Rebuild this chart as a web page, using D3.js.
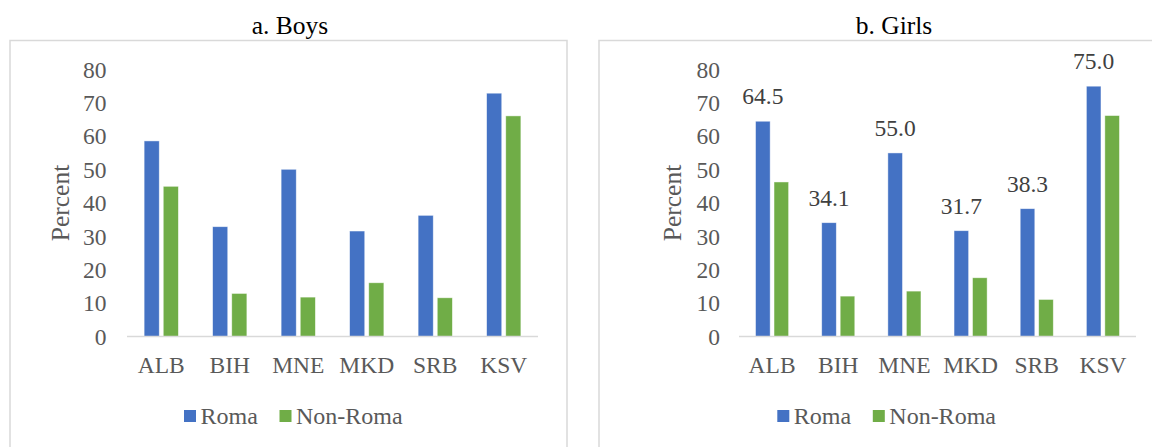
<!DOCTYPE html>
<html>
<head>
<meta charset="utf-8">
<script src="https://cdn.jsdelivr.net/npm/d3@7"></script>
<style>
  html, body { margin: 0; padding: 0; background: #fff; }
  svg { display: block; }
  svg text { font-family: "Liberation Serif", "Times New Roman", Times, serif; }
</style>
</head>
<body>
<svg id="chart" width="1152" height="447"></svg>
<script>
// ---- data ----
const categories = ["ALB", "BIH", "MNE", "MKD", "SRB", "KSV"];
const seriesNames = ["Roma", "Non-Roma"];
const boysRoma    = [58.6, 32.9, 50.1, 31.6, 36.3, 72.9];
const boysNonRoma = [45.0, 12.9, 11.8, 16.1, 11.6, 66.1];
const girlsRoma    = [64.5, 34.1, 55.0, 31.7, 38.3, 75.0];
const girlsNonRoma = [46.3, 12.1, 13.6, 17.6, 11.1, 66.2];
const yTicks = [0, 10, 20, 30, 40, 50, 60, 70, 80];
const panelTitles = ["a. Boys", "b. Girls"];
const axisTitle = "Percent";

const colors = { "Roma": "#4472C4", "Non-Roma": "#70AD47" };
const FONT = "Liberation Serif, Times New Roman, serif";

const panels = [
  { title: panelTitles[0], roma: boysRoma, non: boysNonRoma, labels: false,
    box: [10, 40.5, 567, 470], plot: [127, 538], tickRight: 106.5, axisX: 60.5,
    titleX: 290, legendX: 184 },
  { title: panelTitles[1], roma: girlsRoma, non: girlsNonRoma, labels: true,
    box: [599, 40.5, 1170, 470], plot: [739, 1136], tickRight: 720, axisX: 672.5,
    titleX: 894, legendX: 777.3 }
];

const svg = d3.select("#chart");
const y = d3.scaleLinear().domain([0, 80]).range([336.5, 69.5]);

panels.forEach(p => {
  const g = svg.append("g").attr("font-family", FONT);
  g.append("rect")
    .attr("x", p.box[0]).attr("y", p.box[1])
    .attr("width", p.box[2] - p.box[0]).attr("height", p.box[3] - p.box[1])
    .attr("fill", "#fff").attr("stroke", "#d9d9d9").attr("stroke-width", 1.5);

  g.append("text").attr("x", p.titleX).attr("y", 34)
    .attr("text-anchor", "middle").attr("font-size", 25.5).attr("fill", "#000")
    .attr("font-family", FONT)
    .text(p.title);

  const x0 = d3.scaleBand().domain(categories).range(p.plot).paddingInner(0).paddingOuter(0);
  const groupW = x0.bandwidth() * 0.5;
  const x1 = d3.scaleBand().domain(seriesNames).range([-groupW / 2, groupW / 2]).paddingInner(0.21);

  g.append("g").selectAll("text").data(yTicks).join("text")
    .attr("x", p.tickRight).attr("y", d => y(d))
    .attr("dy", "0.35em").attr("text-anchor", "end")
    .attr("font-size", 23.5).attr("fill", "#595959").attr("font-family", FONT)
    .text(d => d);

  g.append("text")
    .attr("transform", `translate(${p.axisX},${(y(0) + y(80)) / 2}) rotate(-90)`)
    .attr("dy", "0.35em").attr("text-anchor", "middle")
    .attr("font-size", 25.5).attr("fill", "#595959").attr("font-family", FONT)
    .text(axisTitle);

  const rows = categories.map((c, i) => ({ cat: c, vals: [
    { s: "Roma", v: p.roma[i] }, { s: "Non-Roma", v: p.non[i] } ] }));
  const cg = g.append("g").selectAll("g").data(rows).join("g")
    .attr("transform", d => `translate(${x0(d.cat) + x0.bandwidth() / 2},0)`);
  cg.selectAll("rect").data(d => d.vals).join("rect")
    .attr("x", d => x1(d.s)).attr("width", x1.bandwidth())
    .attr("y", d => y(d.v)).attr("height", d => y(0) - y(d.v))
    .attr("fill", d => colors[d.s])
    .attr("stroke", "#ffffff").attr("stroke-width", 0.75).attr("stroke-opacity", 0.6);

  if (p.labels) {
    cg.append("text")
      .attr("x", d => x1("Roma") + x1.bandwidth() / 2)
      .attr("y", d => y(d.vals[0].v) - 17)
      .attr("text-anchor", "middle").attr("font-size", 23.5).attr("fill", "#404040")
      .attr("font-family", FONT)
      .text(d => d3.format(".1f")(d.vals[0].v));
  }

  g.append("line").attr("x1", p.plot[0]).attr("x2", p.plot[1])
    .attr("y1", y(0)).attr("y2", y(0))
    .attr("stroke", "#d9d9d9").attr("stroke-width", 1.5);

  g.append("g").selectAll("text").data(categories).join("text")
    .attr("x", d => x0(d) + x0.bandwidth() / 2).attr("y", 373)
    .attr("text-anchor", "middle").attr("font-size", 23.5).attr("fill", "#595959")
    .attr("font-family", FONT)
    .text(d => d);

  const lg = g.append("g").attr("transform", `translate(${p.legendX},410)`);
  const items = lg.selectAll("g").data(seriesNames).join("g")
    .attr("transform", (d, i) => `translate(${i * 95.5},0)`);
  items.append("rect").attr("width", 12).attr("height", 12).attr("fill", d => colors[d]);
  items.append("text").attr("x", 16.5).attr("y", 14)
    .attr("font-size", 24).attr("fill", "#595959").attr("font-family", FONT).text(d => d);
});
</script>
</body>
</html>
